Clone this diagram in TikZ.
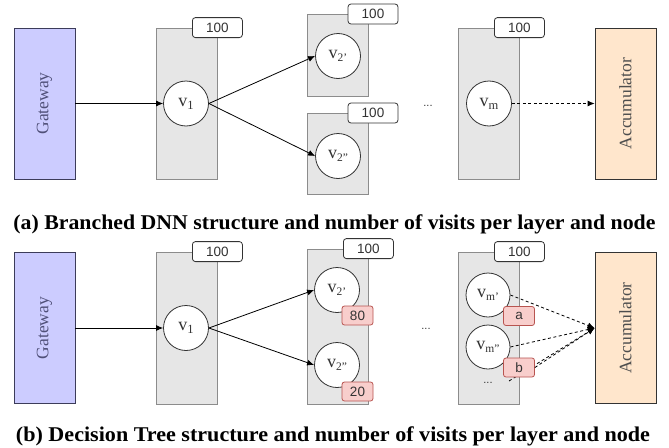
\documentclass[tikz,border=0pt]{standalone}
\usepackage{fontspec}
\usepackage{graphicx}
\setmainfont{Liberation Serif}
\newfontfamily\lsans{Liberation Sans}
\usetikzlibrary{arrows.meta}
\definecolor{layerfill}{HTML}{E6E6E6}
\definecolor{layerdraw}{HTML}{8C8C8C}
\definecolor{dark}{HTML}{333333}
\definecolor{gwfill}{HTML}{CCCCFF}
\definecolor{gwdraw}{HTML}{3C3C5A}
\definecolor{gwtext}{HTML}{505078}
\definecolor{accfill}{HTML}{FFE6CC}
\definecolor{acctext}{HTML}{4D4D4D}
\definecolor{visfill}{HTML}{F8CECC}
\definecolor{visdraw}{HTML}{B85450}
\newcommand\vlab[2]{v\raisebox{-0.35ex}{\fontsize{#2}{#2}\selectfont #1}}
\begin{document}
\begin{tikzpicture}[x=1pt,y=-1pt,
  layer/.style={draw=layerdraw, fill=layerfill, line width=0.8pt, inner sep=0pt, minimum width=61pt},
  cnt/.style={draw=dark, fill=white, rounded corners=3pt, line width=0.8pt, minimum width=50pt, minimum height=20pt, inner sep=0pt, text=dark, font=\lsans\fontsize{13.5}{13.5}\selectfont},
  vis/.style={draw=visdraw, fill=visfill, rounded corners=2.5pt, line width=0.8pt, minimum width=31pt, minimum height=19pt, inner sep=0pt, text=dark, font=\lsans\fontsize{13.5}{13.5}\selectfont},
  neuron/.style={circle, draw=dark, fill=white, line width=0.8pt, minimum size=45pt, inner sep=0pt, text=dark, font=\fontsize{18}{18}\selectfont},
  gw/.style={draw=gwdraw, fill=gwfill, line width=0.8pt, minimum width=151pt, minimum height=61pt, inner sep=0pt, rotate=90, text=gwtext, font=\fontsize{17.5}{17.5}\selectfont},
  acc/.style={draw=dark, fill=accfill, line width=0.8pt, minimum width=151pt, minimum height=61pt, inner sep=0pt, rotate=90, text=acctext, font=\fontsize{17.5}{17.5}\selectfont},
  dots/.style={inner sep=0pt, text=dark, font=\lsans\fontsize{11}{11}\selectfont},
  arr/.style={-{Latex[length=7pt,width=6pt]}, line width=0.8pt, draw=black},
  darr/.style={arr, dash pattern=on 3pt off 2.5pt},
  captext/.style={anchor=base, inner sep=0pt, font=\bfseries\fontsize{21}{21}\selectfont}
]
\path[use as bounding box, fill=white] (0,0) rectangle (669,447);

% ---------------- (a) ----------------
\node[gw] (gwa) at (44.5,103.5) {Gateway};
\node[layer, minimum height=151pt] (l1a) at (186.5,103.5) {};
\node[layer, minimum height=82pt] (l2pa) at (337.5,55) {};
\node[layer, minimum height=81pt] (l2ppa) at (337.5,153.5) {};
\node[layer, minimum height=151pt] (lma) at (488.5,103.5) {};
\node[cnt] (c1a) at (l1a.north east) {100};
\node[cnt] (c2pa) at (373,14) {100};
\node[cnt] (c2ppa) at (373,113) {100};
\node[cnt] (cma) at (lma.north east) {100};
\node[neuron] (v1a) at (186,103.5) {\vlab{1}{12.5}};
\node[neuron] (v2pa) at (338,56) {\vlab{2'}{11.5}};
\node[neuron] (v2ppa) at (338,156) {\vlab{2''}{11.5}};
\node[neuron] (vma) at (489,103.5) {\vlab{m}{12.5}};
\node[dots] (dotsa) at (428,106) {...};
\node[acc] (acca) at (625.5,103.5) {Accumulator};
\draw[arr] (gwa.south) -- (v1a.west);
\draw[arr] (v1a.east) -- (v2pa.west);
\draw[arr] (v1a.east) -- (v2ppa.west);
\draw[darr] (vma.east) -- (acca.north);
\node[captext] (capa) at (334.5,229) {\resizebox{642pt}{\height}{(a) Branched DNN structure and number of visits per layer and node}};

% ---------------- (b) ----------------
\node[gw] (gwb) at (44.5,328) {Gateway};
\node[layer, minimum height=152pt] (l1b) at (186.5,328) {};
\node[layer, minimum height=155pt] (l2b) at (337.5,326.5) {};
\node[layer, minimum height=152pt] (lmb) at (488.5,328) {};
\node[cnt] (c1b) at (l1b.north east) {100};
\node[cnt] (c2b) at (l2b.north east) {100};
\node[cnt] (cmb) at (lmb.north east) {100};
\node[neuron] (v1b) at (186,328) {\vlab{1}{12.5}};
\node[neuron] (v2pb) at (337,290) {\vlab{2'}{11.5}};
\node[neuron] (v2ppb) at (337,365) {\vlab{2''}{11.5}};
\node[neuron, minimum size=44pt] (vmpb) at (488,295) {\vlab{m'}{11.5}};
\node[neuron, minimum size=44pt] (vmppb) at (488,347) {\vlab{m''}{11.5}};
\node[dots] (dotsb) at (426,329) {...};
\node[dots] (mdots) at (488,383) {...};
\node[acc] (accb) at (625.5,328) {Accumulator};
\coordinate (mdd) at (509,381);
\draw[darr] (mdd) -- (accb.north);
\node[vis] (n80) at (357.5,315.5) {80};
\node[vis] (n20) at (357.5,391.5) {20};
\node[vis] (na) at (519,316) {a};
\node[vis] (nb) at (519,367.5) {b};
\draw[arr] (gwb.south) -- (v1b.west);
\draw[arr] (v1b.east) -- (v2pb.west);
\draw[arr] (v1b.east) -- (v2ppb.west);
\draw[darr] (vmpb.east) -- (accb.north);
\draw[darr] (vmppb.east) -- (accb.north);
\draw[darr] (nb.east) -- (accb.north);
\node[captext] (capb) at (333,441) {\resizebox{634pt}{\height}{(b) Decision Tree structure and number of visits per layer and node}};
\end{tikzpicture}
\end{document}
